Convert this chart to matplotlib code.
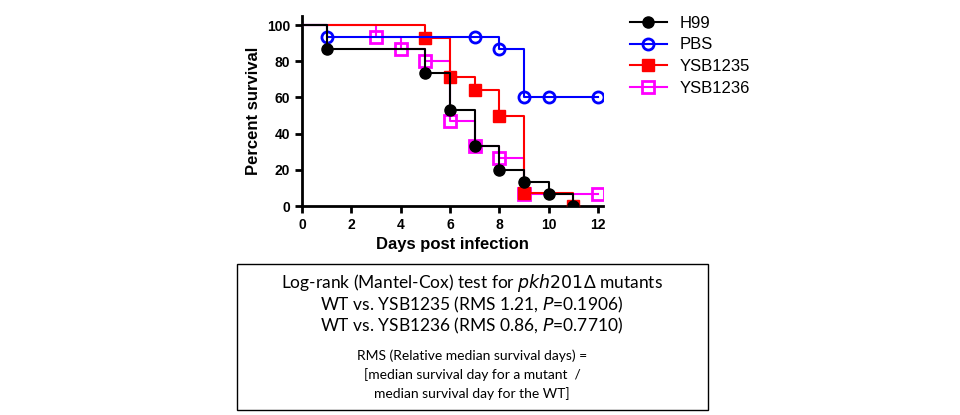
import matplotlib
matplotlib.use("Agg")
import matplotlib.pyplot as plt
from matplotlib.patches import Rectangle

plt.rcParams['font.family'] = ['Liberation Sans', 'DejaVu Sans']

h99_t = [0, 1, 5, 6, 7, 8, 9, 10, 11]
h99_v = [100, 86.7, 73.3, 53.3, 33.3, 20, 13.3, 6.7, 0]
h99_mt = [1, 5, 6, 7, 8, 9, 10, 11]
h99_mv = [86.7, 73.3, 53.3, 33.3, 20, 13.3, 6.7, 0]

pbs_t = [0, 1, 8, 9, 12]
pbs_v = [100, 93.3, 86.7, 60, 60]
pbs_mt = [1, 7, 8, 9, 10, 12]
pbs_mv = [93.3, 93.3, 86.7, 60, 60, 60]

y35_t = [0, 5, 6, 7, 8, 9, 11]
y35_v = [100, 92.9, 71.4, 64.3, 50, 7.1, 0]
y35_mt = [5, 6, 7, 8, 9, 11]
y35_mv = [92.9, 71.4, 64.3, 50, 7.1, 0]

y36_t = [0, 3, 4, 5, 6, 7, 8, 9, 12]
y36_v = [100, 93.3, 86.7, 80, 46.7, 33.3, 26.7, 6.7, 6.7]
y36_mt = [3, 4, 5, 6, 7, 8, 9, 12]
y36_mv = [93.3, 86.7, 80, 46.7, 33.3, 26.7, 6.7, 6.7]

fig = plt.figure(figsize=(9.6, 4.15), dpi=100)
ax = fig.add_axes([302/960, 1-206/415, 301/960, 190/415])

series = [
    ("H99", h99_t, h99_v, h99_mt, h99_mv, "black", dict(marker="o", mfc="black"), 6),
    ("PBS", pbs_t, pbs_v, pbs_mt, pbs_mv, "#0000ff", dict(marker="o", mfc="none", mew=2), 5),
    ("YSB1235", y35_t, y35_v, y35_mt, y35_mv, "#ff0000", dict(marker="s", mfc="#ff0000"), 4),
    ("YSB1236", y36_t, y36_v, y36_mt, y36_mv, "#ff00ff", dict(marker="s", mfc="none", mew=2), 3),
]
for name, t, v, mt, mv, c, mk, z in series:
    ax.step(t, v, where="post", color=c, lw=1.5, zorder=z)
    ax.plot(mt, mv, ls="none", color=c, ms=8, zorder=z + 0.5, **mk)
    ax.plot([], [], color=c, lw=1.5, ms=8, label=name, **mk)

ax.set_xlim(0, 12.2)
ax.set_ylim(0, 105)
ax.set_xticks(range(0, 13, 2))
ax.set_yticks(range(0, 101, 20))
for s in ["top", "right"]:
    ax.spines[s].set_visible(False)
for s in ["left", "bottom"]:
    ax.spines[s].set_linewidth(2)
ax.tick_params(width=2, length=5, labelsize=10)
for l in ax.get_xticklabels() + ax.get_yticklabels():
    l.set_fontweight("bold")
ax.set_xlabel("Days post infection", fontsize=12, fontweight="bold")
ax.set_ylabel("Percent survival", fontsize=12, fontweight="bold")
leg = ax.legend(loc="upper left", bbox_to_anchor=(1.04, 1.08), frameon=False, fontsize=12,
                handlelength=2.2, labelspacing=0.4)

fig.patches.append(Rectangle((237/960, 1-410/415), (708-237)/960, (410-264)/415,
                             transform=fig.transFigure, fill=False, ec="black", lw=1))
cx = 472/960
tf = ['Lato', 'DejaVu Sans']
fig.text(cx, 1-283/415, "Log-rank (Mantel-Cox) test for $\\it{pkh201}$Δ mutants",
         ha="center", va="center", fontsize=12.5, family=tf)
fig.text(cx, 1-305/415, "WT vs. YSB1235 (RMS 1.21, $\\it{P}$=0.1906)",
         ha="center", va="center", fontsize=12.5, family=tf)
fig.text(cx, 1-326/415, "WT vs. YSB1236 (RMS 0.86, $\\it{P}$=0.7710)",
         ha="center", va="center", fontsize=12.5, family=tf)
for y, s in [(356, "RMS (Relative median survival days) ="),
             (375, "[median survival day for a mutant  /"),
             (394, "median survival day for the WT]")]:
    fig.text(cx, 1-y/415, s, ha="center", va="center", fontsize=10, family=tf)

fig.savefig("out.png", dpi=100)
